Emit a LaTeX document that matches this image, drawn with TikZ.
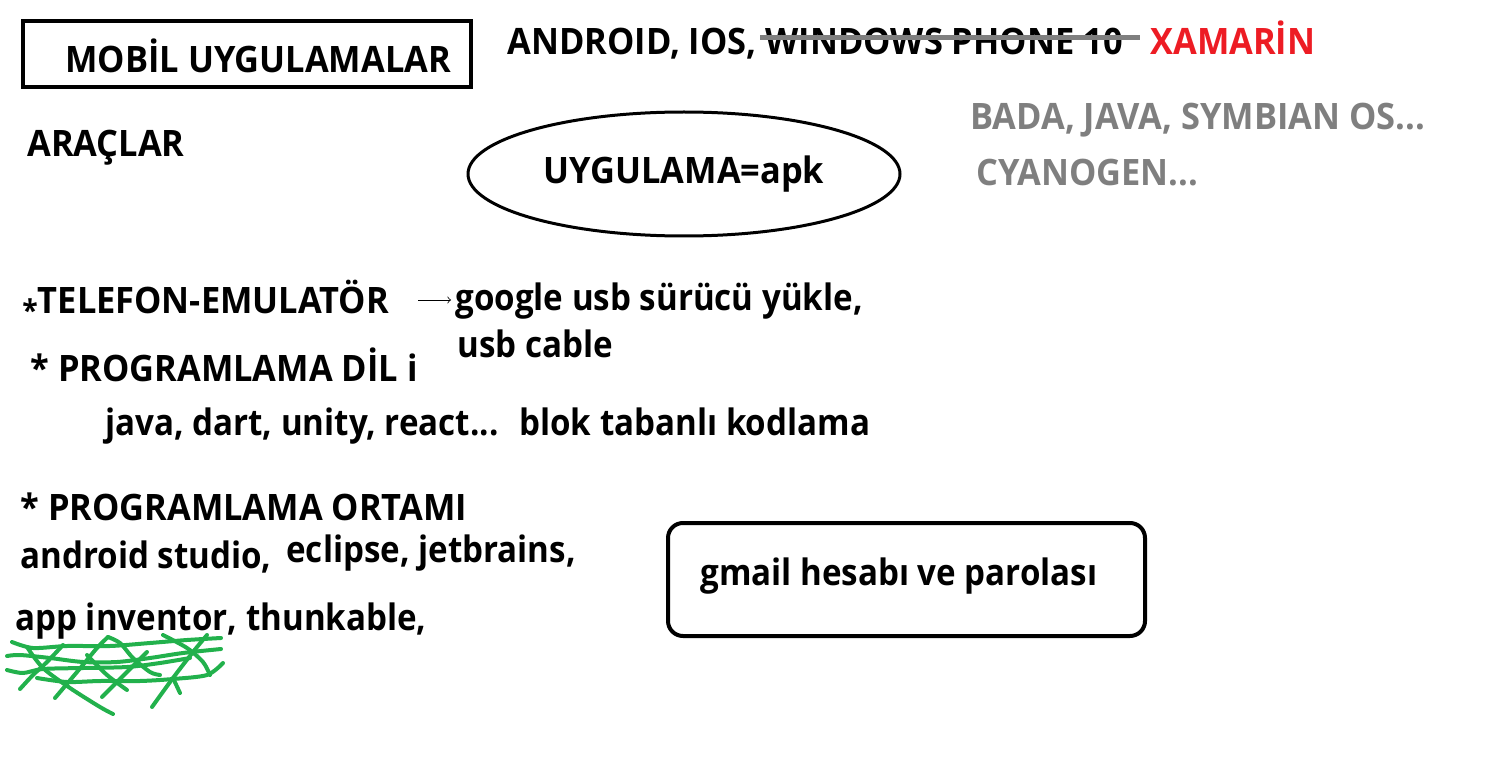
\documentclass[tikz,border=0pt]{standalone}
\usepackage{fontspec}
\setmainfont{Open Sans}
\newfontfamily\capsfont[FakeStretch=0.945]{Open Sans}
\newfontfamily\lowfont[FakeStretch=0.91]{Open Sans}
\usepackage{tikz}
\usetikzlibrary{shapes.geometric}
\definecolor{pgreen}{RGB}{34,177,76}
\definecolor{pred}{RGB}{237,28,36}
\definecolor{pgray}{RGB}{127,127,127}

\begin{document}
\begin{tikzpicture}[x=0.5pt, y=-0.5pt,
    caps/.style={anchor=base west, inner sep=0pt, font=\fontsize{18.2}{22}\capsfont\bfseries},
    lower/.style={anchor=base west, inner sep=0pt, font=\fontsize{18.2}{22}\lowfont\bfseries},
    scrib/.style={pgreen, line width=2pt, line cap=round, line join=round}]
  \useasboundingbox (0,0) rectangle (1498,775);
    % title
    \draw [line width=2pt] (23,21) rectangle (471,87);
    \node (mobil) at (65,73)[caps]{MOBİL UYGULAMALAR};
    \node (araclar) at (27,157)[caps]{ARAÇLAR};
    % platforms
    \node (android) at (507,55)[caps]{ANDROID, IOS, WINDOWS PHONE 10};
    \draw [pgray, line width=2.5pt] (760,38)--(1140,38);
    \node (xamarin) at (1150,55)[caps, pred]{XAMARİN};
    \node (bada) at (970,130)[caps, pgray]{BADA, JAVA, SYMBIAN OS...};
    \node (cyanogen) at (976,186)[caps, pgray]{CYANOGEN...};
    \node (apk) at (684,174)[ellipse, draw, line width=1.5pt, minimum width=216pt,
      minimum height=62pt, inner sep=0pt, font=\fontsize{18.2}{22}\capsfont\bfseries]{UYGULAMA=apk};
    % tools
    \node (telefon) at (22,313)[caps]{\raisebox{-4.5pt}{\fontsize{15}{15}\selectfont*}TELEFON-EMULATÖR};
    \coordinate (arrs) at (418,300);
    \coordinate (arre) at (451,300);
    \draw [->, thin] (arrs)--(arre);
    \node (google) at (455,310)[lower]{google usb sürücü yükle,};
    \node (usb) at (457,357)[lower]{usb cable};
    \node (dil) at (30,381)[caps]{* PROGRAMLAMA DİL i};
    \node (java) at (105,435)[lower]{java, dart, unity, react...};
    \node (blok) at (519,435)[lower]{blok tabanlı kodlama};
    \node (ortam) at (20,520)[caps]{* PROGRAMLAMA ORTAMI};
    \node (studio) at (20,568)[lower]{android studio,};
    \node (eclipse) at (286,562)[lower]{eclipse, jetbrains,};
    \node (inventor) at (15,630)[lower]{app inventor, thunkable,};
    % scribble
    \draw [scrib] plot[smooth] coordinates {(12,642) (33,648) (67,646) (110,646) (150,643) (187,640) (221,638)};
    \draw [scrib] plot[smooth] coordinates {(7,656) (20,655) (50,658) (83,662) (117,662) (150,658) (183,653) (221,649)};
    \draw [scrib] plot[smooth] coordinates {(7,670) (23,673) (43,669) (83,668) (127,667) (160,663) (190,658)};
    \draw [scrib] plot[smooth] coordinates {(37,678) (67,682) (100,681) (140,681) (173,679) (207,675) (223,663)};
    \draw [scrib] plot[smooth] coordinates {(27,647) (43,668) (70,688) (100,707) (113,714)};
    \draw [scrib] plot[smooth] coordinates {(63,645) (47,662) (33,675) (20,689)};
    \draw [scrib] plot[smooth] coordinates {(108,637) (120,643) (133,658) (150,672) (160,675)};
    \draw [scrib] plot[smooth] coordinates {(108,637) (97,648) (77,672) (55,698)};
    \draw [scrib] plot[smooth] coordinates {(163,635) (187,648) (203,662) (210,675)};
    \draw [scrib] plot[smooth] coordinates {(207,635) (193,652) (173,678) (152,707)};
    \draw [scrib] plot[smooth] coordinates {(147,652) (127,672) (102,697)};
    \draw [scrib] plot[smooth] coordinates {(87,655) (107,675) (127,690)};
    \draw [scrib] plot[smooth] coordinates {(173,678) (180,693)};
    % account
    \draw [line width=2pt, rounded corners=7.5pt] (668,523) rectangle (1145,636);
    \node (gmail) at (700,585)[lower]{gmail hesabı ve parolası};
  \end{tikzpicture}
\end{document}
